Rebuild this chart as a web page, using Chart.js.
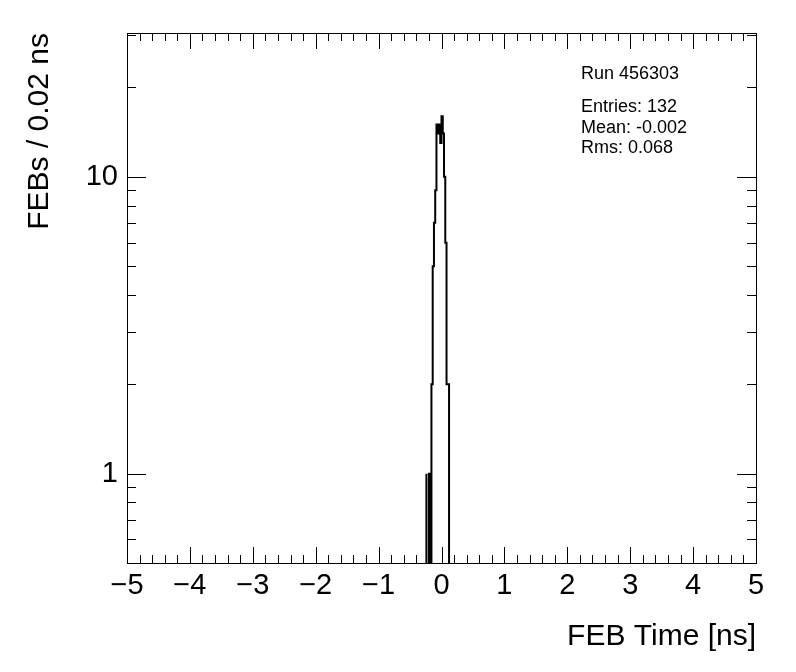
<!DOCTYPE html>
<html>
<head>
<meta charset="utf-8">
<script src="https://cdn.jsdelivr.net/npm/chart.js@4.4.1/dist/chart.umd.min.js"></script>
<style>
  html, body { margin: 0; padding: 0; background: #fff; }
  #wrap { width: 796px; height: 672px; }
</style>
</head>
<body>
<div id="wrap"><canvas id="febTimeChart" width="796" height="672"></canvas></div>
<script>
// histogram bin edges (ns) and counts per 0.02 ns bin
const binEdges = [-0.24, -0.22, -0.20, -0.18, -0.16, -0.14, -0.12, -0.10, -0.08, -0.06,
                  -0.04, -0.02, 0.00, 0.02, 0.04, 0.06, 0.08, 0.10, 0.12, 0.14];
const binCounts = [1, 0, 0, 1, 0, 2, 5, 7, 9, 15, 14, 15, 13, 16, 14, 10, 6, 2, 2];

const xTicks = [-5, -4, -3, -2, -1, 0, 1, 2, 3, 4, 5];
const yTicks = [1, 10];
const yMinorTicks = [0.6, 0.7, 0.8, 0.9, 2, 3, 4, 5, 6, 7, 8, 9, 20, 30];

const statsLines = ['Run 456303', '', 'Entries: 132', 'Mean: -0.002', 'Rms: 0.068'];

const FONT = '"Liberation Sans", Arial, Helvetica, sans-serif';
const EMPTY = 0.01; // below axis minimum, empty bins drop to the frame

// step outline of the histogram
const stepPoints = [{ x: binEdges[0], y: EMPTY }];
binCounts.forEach((c, i) => {
    stepPoints.push({ x: binEdges[i], y: c > 0 ? c : EMPTY });
});
stepPoints.push({ x: binEdges[binEdges.length - 1], y: EMPTY });

// ROOT style frame, inward ticks, titles and stats text
const rootFrame = {
    id: 'rootFrame',
    afterDraw(chart) {
        const { ctx, chartArea: a, scales: { x, y } } = chart;
        ctx.save();
        ctx.strokeStyle = '#000';
        ctx.lineWidth = 1;
        ctx.strokeRect(a.left + 0.5, a.top + 0.5, a.right - a.left, a.bottom - a.top);

        ctx.beginPath();
        for (let v = -5; v <= 5.0001; v += 0.2) {
            const px = Math.round(x.getPixelForValue(v)) + 0.5;
            const major = Math.abs(v - Math.round(v)) < 1e-6;
            const len = major ? 16 : 8;
            ctx.moveTo(px, a.bottom); ctx.lineTo(px, a.bottom - len);
            ctx.moveTo(px, a.top); ctx.lineTo(px, a.top + len);
        }
        const yTickLines = (vals, len) => {
            vals.forEach(v => {
                const py = Math.round(y.getPixelForValue(v)) + 0.5;
                ctx.moveTo(a.left, py); ctx.lineTo(a.left + len, py);
                ctx.moveTo(a.right, py); ctx.lineTo(a.right - len, py);
            });
        };
        yTickLines(yTicks, 19);
        yTickLines(yMinorTicks, 9);
        ctx.stroke();

        ctx.fillStyle = '#000';
        ctx.font = '30px ' + FONT;
        ctx.textAlign = 'right';
        ctx.textBaseline = 'middle';
        ctx.fillText('FEB Time [ns]', a.right, 637);

        ctx.save();
        ctx.translate(40, a.top);
        ctx.rotate(-Math.PI / 2);
        ctx.textAlign = 'right';
        ctx.fillText('FEBs / 0.02 ns', 0, 0);
        ctx.restore();

        ctx.font = '18px ' + FONT;
        ctx.textAlign = 'left';
        const lineY = [74, 94, 107, 128, 148];
        statsLines.forEach((t, i) => {
            if (t) ctx.fillText(t, 581, lineY[i]);
        });
        ctx.restore();
    }
};

new Chart(document.getElementById('febTimeChart'), {
    type: 'line',
    data: {
        datasets: [{
            data: stepPoints,
            stepped: 'after',
            borderColor: '#000',
            borderWidth: 2,
            pointRadius: 0,
            fill: false,
            tension: 0
        }]
    },
    options: {
        responsive: false,
        animation: false,
        layout: { padding: { top: 33, right: 40, left: 0, bottom: 0 } },
        plugins: {
            legend: { display: false },
            tooltip: { enabled: false }
        },
        scales: {
            x: {
                type: 'linear',
                min: -5,
                max: 5,
                grid: { display: false, drawTicks: false },
                border: { display: false },
                afterBuildTicks: (s) => { s.ticks = xTicks.map(v => ({ value: v })); },
                afterFit: (s) => { s.height = 109; },
                ticks: {
                    color: '#000',
                    padding: 6,
                    maxRotation: 0,
                    font: { family: FONT, size: 29 },
                    callback: (v) => String(v).replace('-', '\u2212')
                }
            },
            y: {
                type: 'logarithmic',
                min: 0.5,
                max: 30.5,
                grid: { display: false, drawTicks: false },
                border: { display: false },
                afterBuildTicks: (s) => { s.ticks = yTicks.map(v => ({ value: v })); },
                afterFit: (s) => { s.width = 127; },
                ticks: {
                    color: '#000',
                    padding: 9,
                    font: { family: FONT, size: 29 },
                    callback: (v) => String(v)
                }
            }
        }
    },
    plugins: [rootFrame]
});
</script>
</body>
</html>
